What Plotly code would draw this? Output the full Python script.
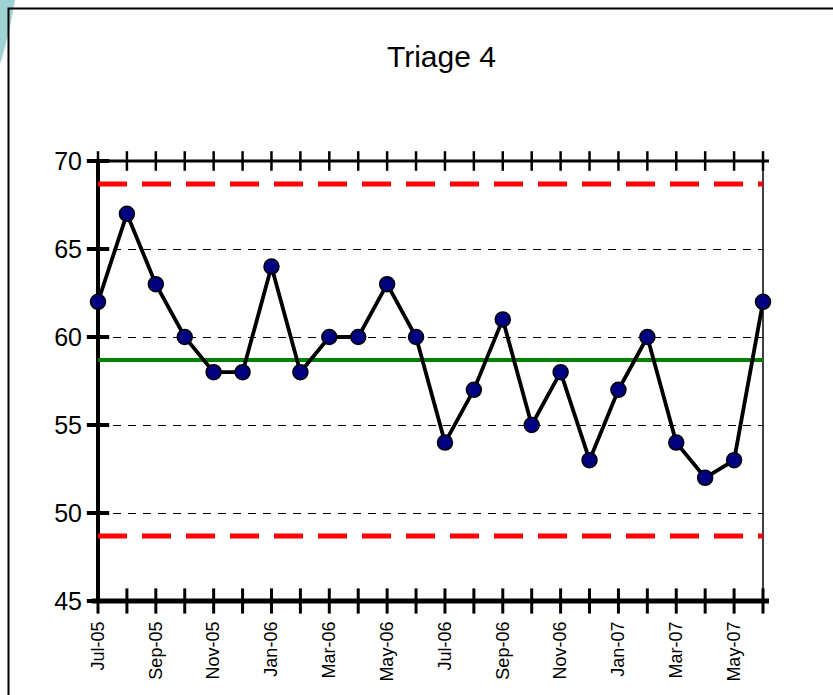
import plotly.graph_objects as go

# ---- data ----
months = ["Jul-05", "Aug-05", "Sep-05", "Oct-05", "Nov-05", "Dec-05",
          "Jan-06", "Feb-06", "Mar-06", "Apr-06", "May-06", "Jun-06",
          "Jul-06", "Aug-06", "Sep-06", "Oct-06", "Nov-06", "Dec-06",
          "Jan-07", "Feb-07", "Mar-07", "Apr-07", "May-07", "Jun-07"]
values = [62, 67, 63, 60, 58, 58, 64, 58, 60, 60, 63, 60,
          54, 57, 61, 55, 58, 53, 57, 60, 54, 52, 53, 62]
mean_line = 58.7
upper_limit = 68.7
lower_limit = 48.7
y_ticks = [45, 50, 55, 60, 65, 70]
title_text = "Triage 4"

W, H = 833, 695
L, R, T, B = 98, 70, 161, 94
PW, PH = W - L - R, H - T - B

def px(x):
    return (x - L) / PW

def py(y):
    return (H - B - y) / PH

idx = list(range(len(months)))
FONT = "Liberation Sans, Arial, sans-serif"

fig = go.Figure()

# control limits
for val, col, wd, dash in [(upper_limit, "#ff0000", 5, "29px,15px"),
                           (lower_limit, "#ff0000", 5, "29px,15px"),
                           (mean_line, "#008000", 4, "solid")]:
    fig.add_trace(go.Scatter(x=[idx[0], idx[-1]], y=[val, val], mode="lines",
                             line=dict(color=col, width=wd, dash=dash),
                             hoverinfo="skip", showlegend=False))

# crossing tick marks
fig.add_trace(go.Scatter(x=idx, y=[y_ticks[0]] * len(idx), mode="markers",
                         marker=dict(symbol="line-ns", size=18,
                                     line=dict(color="black", width=3)),
                         cliponaxis=False, hoverinfo="skip", showlegend=False))
fig.add_trace(go.Scatter(x=idx, y=[y_ticks[-1]] * len(idx), mode="markers",
                         marker=dict(symbol="line-ns", size=14,
                                     line=dict(color="black", width=2.5)),
                         cliponaxis=False, hoverinfo="skip", showlegend=False))
fig.add_trace(go.Scatter(x=[idx[0]] * len(y_ticks), y=y_ticks, mode="markers",
                         marker=dict(symbol="line-ew", size=16,
                                     line=dict(color="black", width=4)),
                         cliponaxis=False, hoverinfo="skip", showlegend=False))

# data
fig.add_trace(go.Scatter(x=idx, y=values, mode="lines+markers",
                         line=dict(color="black", width=3.8),
                         marker=dict(symbol="circle", size=15, color="#000080",
                                     line=dict(color="black", width=1.5)),
                         cliponaxis=False, showlegend=False))

shapes = [
    # cyan decoration top-left
    dict(type="path", xref="paper", yref="paper",
         path=f"M {px(0)},{py(0)} L {px(15)},{py(0)} Q {px(8)},{py(40)} {px(0)},{py(64)} Z",
         fillcolor="#9fd3d3", line=dict(width=0), layer="below"),
    # outer frame
    dict(type="rect", xref="paper", yref="paper",
         x0=px(8.5), x1=px(845), y0=py(705), y1=py(8.5),
         line=dict(color="black", width=2), fillcolor="rgba(0,0,0,0)"),
    # axis frame
    dict(type="line", xref="x domain", yref="y domain", x0=-0.009, x1=1.009, y0=0, y1=0,
         line=dict(color="black", width=5), layer="below"),
    dict(type="line", xref="x domain", yref="y domain", x0=0, x1=0, y0=0, y1=1,
         line=dict(color="black", width=4), layer="below"),
    dict(type="line", xref="x domain", yref="y domain", x0=0, x1=1.009, y0=1, y1=1,
         line=dict(color="black", width=3), layer="below"),
    dict(type="line", xref="x domain", yref="y domain", x0=1, x1=1, y0=0, y1=1,
         line=dict(color="black", width=1.5), layer="below"),
]

fig.update_layout(
    width=W, height=H,
    margin=dict(l=L, r=R, t=T, b=B),
    paper_bgcolor="white", plot_bgcolor="white",
    shapes=shapes,
    annotations=[dict(text=title_text, xref="paper", yref="paper",
                      x=px(441), y=py(56), xanchor="center", yanchor="middle",
                      showarrow=False,
                      font=dict(family=FONT, size=30, color="black"))],
    xaxis=dict(range=[idx[0], idx[-1]], tickvals=idx[::2], ticktext=months[::2],
               tickangle=-90, ticks="", showgrid=False, zeroline=False,
               showline=False, ticklabelstandoff=16,
               tickfont=dict(family=FONT, size=18, color="black")),
    yaxis=dict(range=[y_ticks[0], y_ticks[-1]], tickvals=y_ticks, ticks="",
               showgrid=True, gridcolor="black", gridwidth=1, griddash="8px,7px",
               zeroline=False, showline=False, ticklabelstandoff=15,
               tickfont=dict(family=FONT, size=25, color="black")),
)

fig.write_html("out.html")
